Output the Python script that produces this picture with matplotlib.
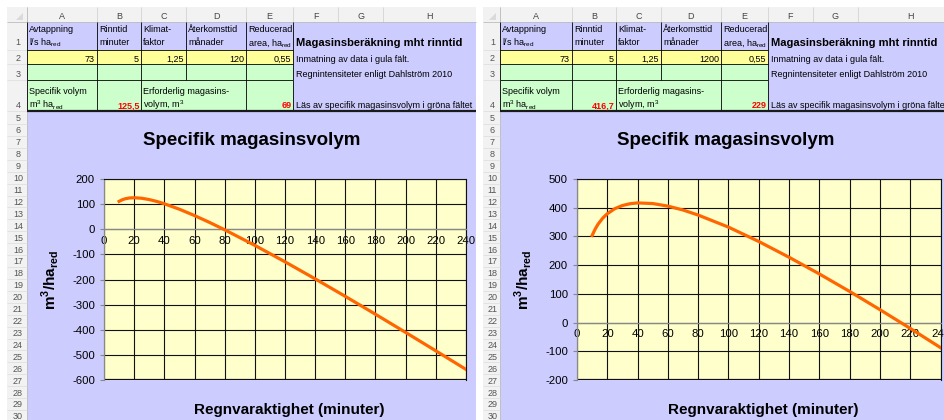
import matplotlib.pyplot as plt
from matplotlib.patches import Rectangle, Polygon

plt.rcParams['font.family'] = ['Liberation Sans', 'DejaVu Sans']
plt.rcParams['mathtext.fontset'] = 'custom'
plt.rcParams['mathtext.rm'] = 'Liberation Sans'
plt.rcParams['mathtext.bf'] = 'Liberation Sans:bold'
plt.rcParams['axes.unicode_minus'] = False

# Regnvaraktighet (minuter) och specifik magasinsvolym (m3/ha red)
duration = [10, 12, 14, 17, 20, 25, 30, 35, 40, 50, 60, 70, 80,
            100, 120, 140, 160, 180, 200, 220, 240]
volume_z120 = [110.9, 117.1, 121.2, 124.6, 125.5, 123.4, 118.1, 110.7, 101.5,
               79.7, 54.5, 27.1, -2.1, -64.1, -129.6, -197.5, -267.2,
               -338.4, -410.7, -483.9, -557.9]
volume_z1200 = [303.5, 325.7, 343.4, 363.8, 379.1, 396.8, 407.7, 413.9, 416.7,
                414.5, 405.6, 392.0, 374.4, 332.4, 282.4, 227.5, 169.4,
                108.4, 45.0, -20.2, -87.2]

yticks_z120 = list(range(-600, 201, 100))
yticks_z1200 = list(range(-200, 501, 100))
xticks = list(range(0, 241, 20))

col_letters = ['A', 'B', 'C', 'D', 'E', 'F', 'G', 'H']
head_line1 = ['Avtappning', 'Rinntid', 'Klimat-', 'Återkomsttid', 'Reducerad']
head_line2 = ['l/s ha$_{\\mathrm{red}}$', 'minuter', 'faktor', 'månader',
              'area, ha$_{\\mathrm{red}}$']
inputs_z120 = ['73', '5', '1,25', '120', '0,55']
inputs_z1200 = ['73', '5', '1,25', '1200', '0,55']
spec_z120, req_z120 = '125,5', '69'
spec_z1200, req_z1200 = '416,7', '229'
sheet_title = 'Magasinsberäkning mht rinntid'
notes = ['Inmatning av data i gula fält.',
         'Regnintensiteter enligt Dahlström 2010',
         'Läs av specifik magasinsvolym i gröna fältet']
chart_title = 'Specifik magasinsvolym'
x_title = 'Regnvaraktighet (minuter)'
y_title = 'm$^{\\mathbf{3}}$/ha$_{\\mathbf{red}}$'

W, H = 944, 420
LAV, YEL, GRN, PLOT = '#CCCCFF', '#FFFF99', '#CCFFCC', '#FFFFCC'
HDR, HDR_LINE = '#F2F2F2', '#D4D4D4'

# row boundaries in pixels: header, rows 1-4, row 5, rows 6-30
row_edges = [7, 22, 50, 64, 80, 111] + [124 + 11.92 * k for k in range(26)]

fig = plt.figure(figsize=(W / 100, H / 100), dpi=100)
bg = fig.add_axes([0, 0, 1, 1])
bg.set_xlim(0, W)
bg.set_ylim(H, 0)
bg.axis('off')


def box(x0, y0, x1, y1, color):
    bg.add_patch(Rectangle((x0, y0), x1 - x0, y1 - y0, facecolor=color,
                           edgecolor='none', zorder=1))


def hline(y, x0, x1, color='#000000', lw=0.6):
    bg.plot([x0, x1], [y, y], color=color, lw=lw, zorder=3,
            solid_capstyle='butt')


def vline(x, y0, y1, color='#000000', lw=0.6):
    bg.plot([x, x], [y0, y1], color=color, lw=lw, zorder=3,
            solid_capstyle='butt')


def txt(x, y, s, ha='left', size=6.5, **kw):
    bg.text(x, y, s, ha=ha, va='baseline', fontsize=size, zorder=4, **kw)


def sheet(x_hdr, edges, inputs, spec, req):
    x0, xe = edges[0], edges[-1]
    # column and row headers
    box(x_hdr, 7, xe, 22, HDR)
    box(x_hdr, 22, x0, H, HDR)
    bg.add_patch(Polygon([[x0 - 4, 13], [x0 - 4, 20], [x0 - 11, 20]],
                         closed=True, facecolor='#DADADA', edgecolor='none',
                         zorder=2))
    for x in edges[:-1]:
        vline(x, 7, 22, HDR_LINE)
    hline(22, x_hdr, xe, '#BDBDBD')
    vline(x0, 7, H, '#BDBDBD')
    for i, letter in enumerate(col_letters):
        txt((edges[i] + edges[i + 1]) / 2, 19.3, letter, ha='center',
            color='#444444')
    for n in range(1, 31):
        bottom = row_edges[n + 1]
        hline(bottom, x_hdr, x0, '#DCDCDC', 0.5)
        base = bottom - 5 if n == 1 else bottom - 2.6
        txt((x_hdr + x0) / 2 + 1, base, str(n), ha='center', color='#555555')

    # cell fills
    box(x0, 22, edges[5], 50, LAV)
    box(edges[5], 22, xe, 111, LAV)
    box(x0, 50, edges[5], 64, YEL)
    box(x0, 64, edges[5], 111, GRN)
    box(x0, 111, xe, H, LAV)

    # cell borders
    for i in range(6):
        vline(edges[i], 22, 80)
        if i != 3:
            vline(edges[i], 80, 111)
    for y in (50, 64, 80):
        hline(y, x0, edges[5])
    hline(111, x0, xe, '#1A1A1A', 1.6)

    # cell texts
    for i in range(5):
        txt(edges[i] + 2, 31.5, head_line1[i])
        txt(edges[i] + 2, 45.3, head_line2[i])
        txt(edges[i + 1] - 2, 61.7, inputs[i], ha='right')
    txt(x0 + 2, 94.3, 'Specifik volym')
    txt(x0 + 2, 108.3, 'm$^{\\mathrm{3}}$ ha$_{\\mathrm{red}}$')
    txt(edges[2] - 1.5, 108.3, spec, ha='right', color='#FF0000',
        fontweight='bold')
    txt(edges[2] + 2, 94.3, 'Erforderlig magasins-')
    txt(edges[2] + 2, 108.3, 'volym, m$^{\\mathrm{3}}$')
    txt(edges[5] - 1.5, 108.3, req, ha='right', color='#FF0000',
        fontweight='bold')
    txt(edges[5] + 3, 45.7, sheet_title, size=8, fontweight='bold')
    txt(edges[5] + 3, 61.7, notes[0])
    txt(edges[5] + 3, 76.9, notes[1])
    txt(edges[5] + 3, 108.3, notes[2])


def chart(area, px, values, yticks):
    a0, a1 = area
    p0, p1 = px
    top, bottom = 179, 380
    ax = fig.add_axes([p0 / W, (H - bottom) / H, (p1 - p0) / W,
                       (bottom - top) / H])
    ax.set_facecolor(PLOT)
    ax.plot(duration, values, color='#FF6600', lw=2.3, zorder=4)
    ax.set_xlim(0, 240)
    ax.set_ylim(yticks[0], yticks[-1])
    ax.set_xticks(xticks)
    ax.set_yticks(yticks)
    ax.grid(True, color='#111111', lw=0.8)
    ax.set_axisbelow(True)
    for s in ('top', 'right'):
        ax.spines[s].set_color('#111111')
        ax.spines[s].set_linewidth(0.8)
    ax.axhline(yticks[0], color='#111111', lw=1.6)
    ax.spines['left'].set_color('#888888')
    ax.spines['left'].set_linewidth(0.9)
    ax.spines['bottom'].set_position(('data', 0))
    ax.spines['bottom'].set_color('#888888')
    ax.spines['bottom'].set_linewidth(0.9)
    ax.spines['bottom'].set_zorder(3)
    ax.tick_params(axis='y', direction='out', length=3, width=0.8,
                   color='#888888', pad=3.5, labelsize=8.2)
    ax.tick_params(axis='x', length=0, pad=4.5, labelsize=8.2)

    txt((a0 + a1) / 2, 145, chart_title, ha='center', size=13.5,
        fontweight='bold')
    txt((p0 + p1) / 2 + 4, 414, x_title, ha='center', size=11,
        fontweight='bold')
    bg.text(a0 + 23, (top + bottom) / 2, y_title, rotation=90, ha='center',
            va='center', fontsize=11, fontweight='bold', zorder=4)


sheet(7, [27, 97, 141, 186, 246, 293, 338, 383, 476], inputs_z120,
      spec_z120, req_z120)
sheet(483, [500, 572, 616, 661, 721, 768, 813, 858, 962], inputs_z1200,
      spec_z1200, req_z1200)
chart((27, 476), (104, 466), volume_z120, yticks_z120)
chart((500, 952), (577, 940.5), volume_z1200, yticks_z1200)

fig.savefig('out.png', dpi=100)
